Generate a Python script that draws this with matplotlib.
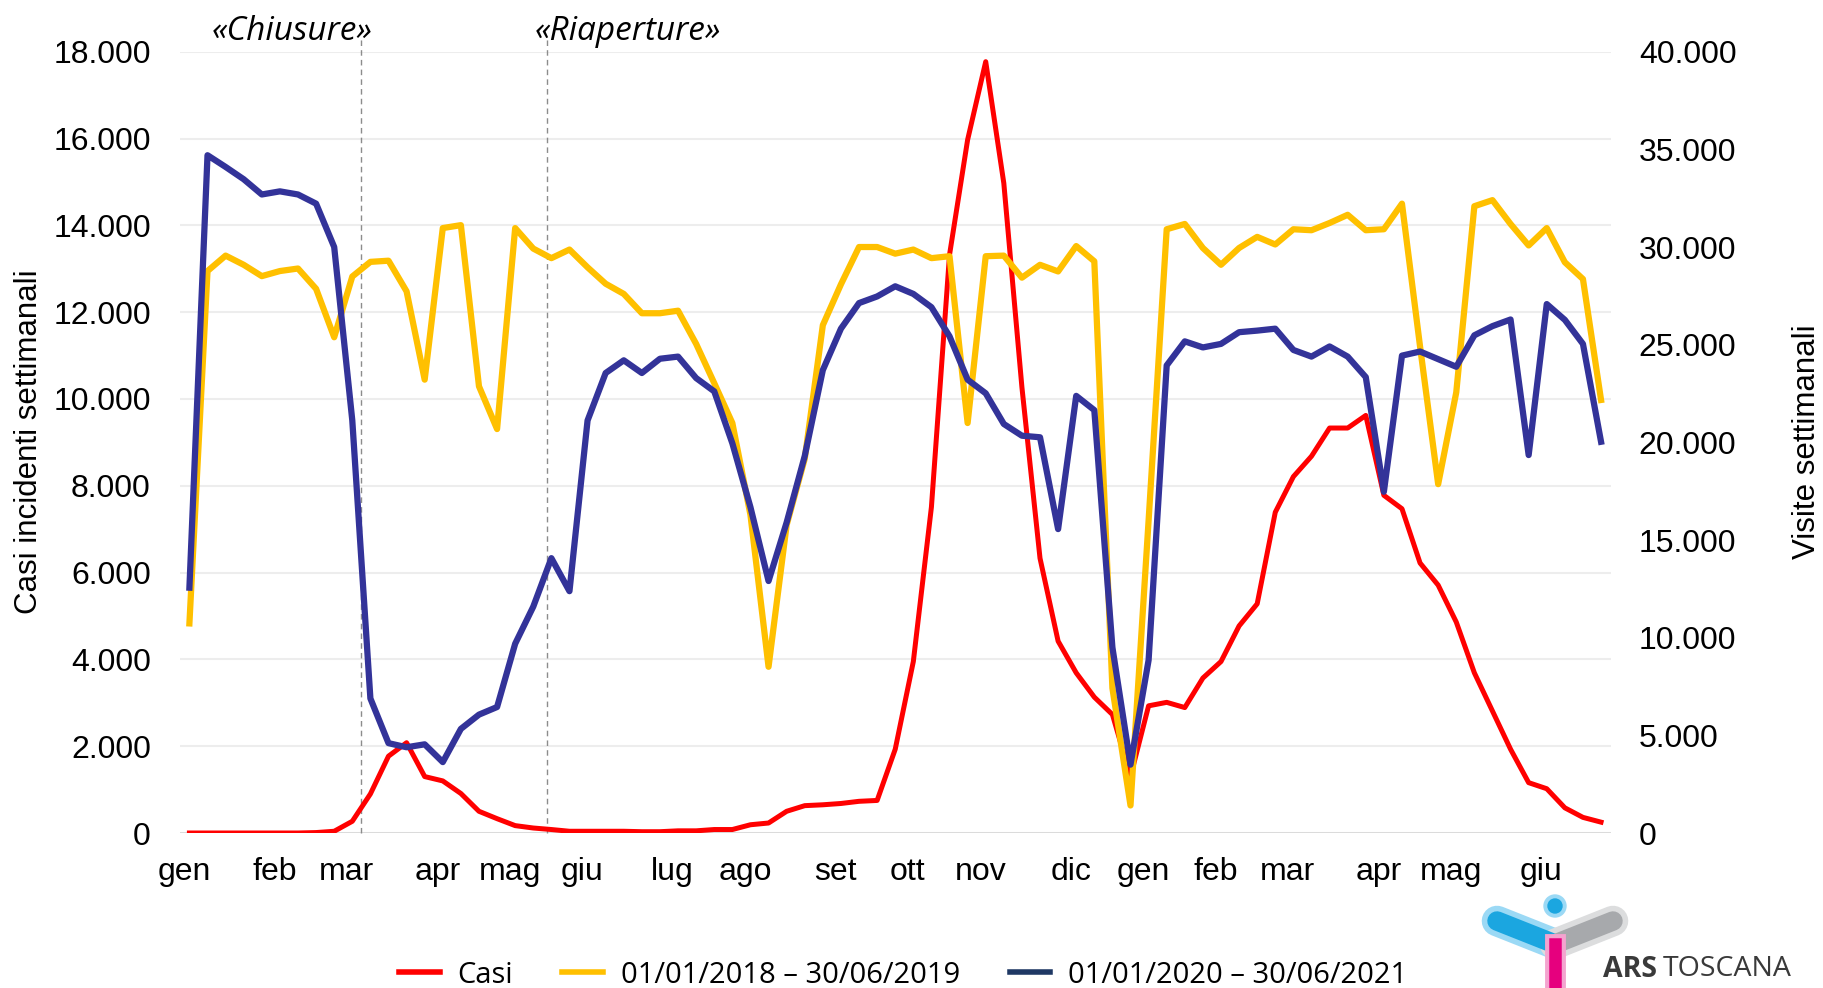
import numpy as np
import matplotlib.pyplot as plt
from matplotlib.lines import Line2D
from matplotlib.patches import Circle
from matplotlib.ticker import FuncFormatter, MultipleLocator

# Casi incidenti settimanali (asse sinistro), settimane gen 2020 - giu 2021
casi = [0, 0, 0, 0, 0, 0, 0, 10, 40, 270, 900, 1770, 2080, 1300, 1200, 910,
        500, 330, 170, 115, 80, 40,
        40, 40, 40, 30, 30, 50, 50, 80, 80, 190, 230, 500, 630, 650,
        680, 730, 750, 1930, 3950, 7510, 13320, 15970, 17770, 14970, 10270,
        6330, 4420, 3690, 3130, 2730, 1300,
        2930, 3010, 2890, 3570, 3950, 4770, 5280, 7390, 8210, 8680, 9330,
        9330, 9620, 7780, 7470, 6220, 5710, 4860, 3690, 2810, 1930, 1160,
        1020, 580, 360, 250]

# Visite settimanali (asse destro)
visite_2018 = [10730, 28770, 29560, 29090, 28510, 28770, 28900, 27860, 25380,
               28490, 29240, 29300, 27730, 23210, 30970, 31120, 22870, 20680,
               30970, 29920, 29430, 29870, 28960, 28120, 27600, 26610, 26610,
               26740, 25040, 23030, 20990, 16290, 8510, 15770, 19160, 26000,
               28090, 30000, 30000, 29660, 29870, 29430, 29530, 20990, 29530,
               29560, 28430, 29090, 28750, 30050, 29270, 7420, 1410,
               16000, 30910, 31180, 29950, 29090, 29950, 30520, 30130, 30910,
               30860, 31230, 31650, 30860, 30910, 32220, 24900, 17860, 22560,
               32090, 32400, 31180, 30080, 30970, 29220, 28360, 22170]

visite_2020 = [12560, 34700, 34100, 33470, 32690, 32850, 32690, 32220, 30000,
               21120, 6890, 4600, 4390, 4540, 3630, 5330, 6060, 6450,
               9690, 11590, 14070, 12380, 21120, 23550, 24200, 23550, 24280,
               24390, 23290, 22610, 19950, 16680, 12900, 15900, 19300, 23700,
               25820, 27130, 27470, 27990, 27600, 26920, 25430, 23210, 22510,
               20940, 20340, 20260, 15560, 22380, 21650, 9500, 3500,
               8850, 23940, 25170, 24860, 25040, 25640, 25720, 25820, 24730,
               24390, 24910, 24390, 23340, 17470, 24440, 24650, 24260, 23870,
               25480, 25950, 26290, 19350, 27080, 26270, 25040, 20030]

settimane = np.arange(len(casi))

mesi = ['gen', 'feb', 'mar', 'apr', 'mag', 'giu', 'lug', 'ago', 'set', 'ott',
        'nov', 'dic', 'gen', 'feb', 'mar', 'apr', 'mag', 'giu']
settimana_mese = [0, 5, 9, 14, 18, 22, 27, 31, 36, 40, 44, 49, 53, 57, 61, 66,
                  70, 75]

eventi = ['«Chiusure»', '«Riaperture»']
settimana_evento = [9.5, 19.75]

serie = ['Casi', '01/01/2018 – 30/06/2019', '01/01/2020 – 30/06/2021']

ROSSO = '#FF0000'
GIALLO = '#FFC000'
BLU = '#333399'

plt.rcParams['font.family'] = ['Liberation Sans', 'DejaVu Sans']

W, H = 1824, 988
fig = plt.figure(figsize=(W / 100, H / 100), dpi=100)
ax = fig.add_axes([180 / W, 155 / H, 1431 / W, 781.3 / H])
ax2 = ax.twinx()

# linee
ax.plot(settimane, casi, color=ROSSO, lw=3.6, zorder=3)
ax2.plot(settimane, visite_2018, color=GIALLO, lw=4.5, zorder=3)
ax2.plot(settimane, visite_2020, color=BLU, lw=4.5, zorder=4)

# asse sinistro
ax.set_ylim(0, 18000)
ax.set_xlim(-0.52, 78.55)
ax.yaxis.set_major_locator(MultipleLocator(2000))
fmt = FuncFormatter(lambda v, p: f'{v:,.0f}'.replace(',', '.'))
ax.yaxis.set_major_formatter(fmt)
ax.grid(axis='y', color='#EDEDED', lw=1.5)
ax.set_axisbelow(True)
ax.axhline(0, color='#D9D9D9', lw=2, zorder=1)

# asse destro
ax2.set_ylim(0, 40000)
ax2.yaxis.set_major_locator(MultipleLocator(5000))
ax2.yaxis.set_major_formatter(fmt)

ax.set_xticks(np.array(settimana_mese) - 0.3)
ax.set_xticklabels(mesi)

for a in (ax, ax2):
    for s in a.spines.values():
        s.set_visible(False)
    a.tick_params(length=0, labelsize=23, colors='black')
ax.tick_params(axis='y', pad=21)
ax.tick_params(axis='x', pad=17)
ax2.tick_params(axis='y', pad=20)

fig.text(29 / W, 1 - 442 / H, 'Casi incidenti settimanali', rotation=90,
         ha='center', va='center', fontsize=22.5)
fig.text(1807 / W, 1 - 442 / H, 'Visite settimanali', rotation=90,
         ha='center', va='center', fontsize=22.5)

# linee tratteggiate ed etichette degli eventi
spostamento = [-50, 58]
for testo, x, dx in zip(eventi, settimana_evento, spostamento):
    ax.plot([x, x], [0, 18350], color='#8C8C8C', lw=1, ls=(0, (4, 3)),
            clip_on=False, zorder=2)
    ax.annotate(testo, xy=(x, 1), xycoords=('data', 'axes fraction'),
                xytext=(dx, 14.5), textcoords='offset points',
                ha='center', va='center', fontsize=24, style='italic',
                family=['Open Sans', 'DejaVu Sans'])

# legenda
maniglie = [Line2D([], [], color=ROSSO, lw=4),
            Line2D([], [], color=GIALLO, lw=4),
            Line2D([], [], color='#1F3864', lw=4)]
fig.legend(maniglie, serie, loc='center', bbox_to_anchor=(0.495, 0.013),
           ncol=3, frameon=False, handlelength=1.4, handletextpad=0.6,
           columnspacing=1.7, prop={'family': ['Open Sans', 'DejaVu Sans'],
                                    'size': 21})

# logo ARS Toscana
lg = fig.add_axes([1470 / W, 0, 350 / W, 100 / H])
lg.set_xlim(1470, 1820)
lg.set_ylim(988, 888)
lg.axis('off')
lg.plot([1497, 1555], [921, 944], color='#9BD9F5', lw=22, solid_capstyle='round')
lg.plot([1555, 1613], [944, 921], color='#DCDDDE', lw=22, solid_capstyle='round')
lg.plot([1497, 1555], [921, 944], color='#1BA6E0', lw=14, solid_capstyle='round')
lg.plot([1555, 1613], [944, 921], color='#A7A9AC', lw=14, solid_capstyle='round')
lg.plot([1555, 1555], [944, 1000], color='#F4A3CF', lw=15)
lg.plot([1555, 1555], [944, 1000], color='#E6007E', lw=9)
lg.add_patch(Circle((1555, 906), 11, color='#9BD9F5'))
lg.add_patch(Circle((1555, 906), 7, color='#1BA6E0'))
lg.add_patch(Circle((1555, 943), 9, color='#1B1464'))
lg.text(1603, 969, 'ARS', fontsize=20.5, fontweight='bold', color='#3A3A3A',
        ha='left', va='center', family=['Open Sans', 'DejaVu Sans'])
lg.text(1663, 969, 'TOSCANA', fontsize=20.5, color='#3A3A3A',
        ha='left', va='center', family=['Open Sans', 'DejaVu Sans'])

fig.savefig('out.png', dpi=100)
